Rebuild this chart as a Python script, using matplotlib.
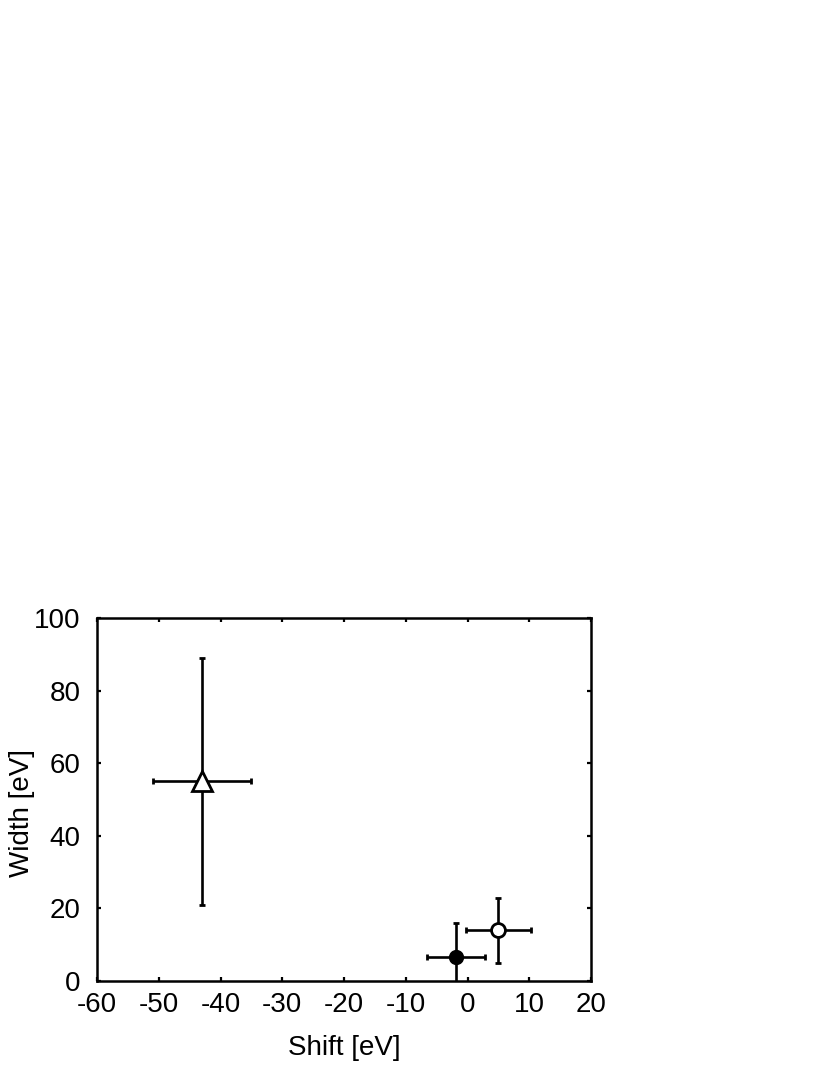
import matplotlib
matplotlib.use('Agg')
import matplotlib.pyplot as plt

plt.rcParams['font.family'] = ['Liberation Sans', 'DejaVu Sans']
plt.rcParams['axes.unicode_minus'] = False

# data: (shift, width) with symmetric errors
shift = [-43.0, -1.9, 5.0]
shift_err = [8.0, 4.7, 5.2]
width = [55.0, 6.5, 14.0]
width_err = [34.0, 9.5, 9.0]
markers = ['^', 'o', 'o']
faces = ['white', 'black', 'white']
sizes = [14, 9, 10]

x_ticks = [-60, -50, -40, -30, -20, -10, 0, 10, 20]
y_ticks = [0, 20, 40, 60, 80, 100]

fig = plt.figure(figsize=(8.3, 10.75), dpi=100)
ax = fig.add_axes([0.1169, 0.0874, 0.5952, 0.3377])

for i in range(len(shift)):
    ax.errorbar(shift[i], width[i], xerr=shift_err[i], yerr=width_err[i],
                fmt=markers[i], color='black', mfc=faces[i], mec='black',
                mew=2.0, ms=sizes[i], elinewidth=1.9, capsize=2.2,
                capthick=1.9, zorder=3)

ax.set_xlim(-60, 20)
ax.set_ylim(0, 100)
ax.set_xticks(x_ticks)
ax.set_yticks(y_ticks)

ax.tick_params(direction='in', length=3, width=1.6, labelsize=20,
               top=True, right=True)
ax.tick_params(axis='x', pad=8)
ax.tick_params(axis='y', pad=12)
for sp in ax.spines.values():
    sp.set_linewidth(1.8)

ax.set_xlabel('Shift [eV]', fontsize=20, labelpad=12)
ax.set_ylabel('Width [eV]', fontsize=20)
ax.yaxis.set_label_coords(-0.125, 0.463)

plt.savefig('out.png', dpi=100)
